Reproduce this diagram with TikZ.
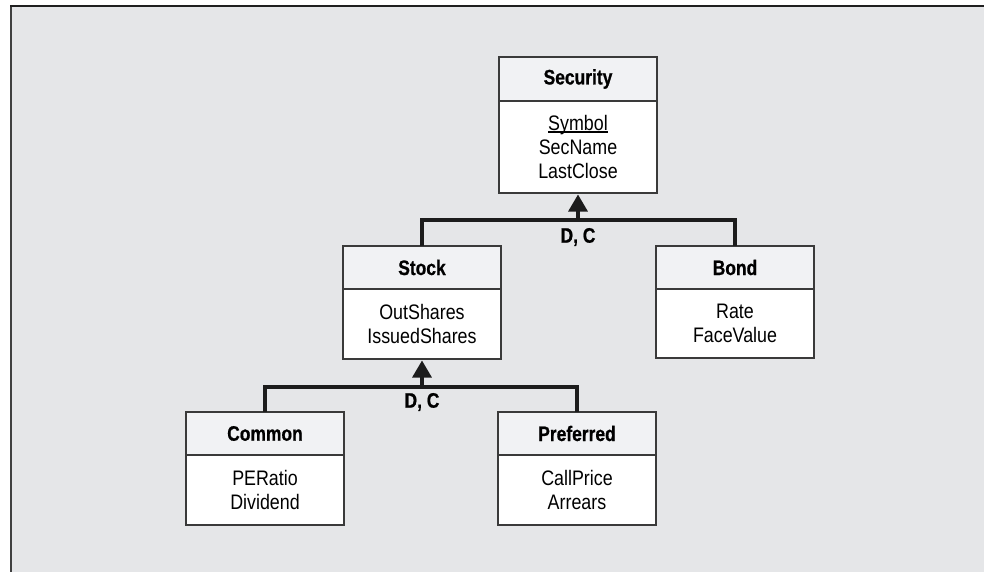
\documentclass[tikz,border=0pt]{standalone}
\usepackage{fontspec}
\setmainfont[FakeStretch=0.85,BoldFeatures={FakeStretch=0.83,FakeBold=0.8}]{Liberation Sans}
\usetikzlibrary{arrows.meta}

\definecolor{panel}{HTML}{E5E6E8}
\definecolor{headfill}{HTML}{F1F2F4}
\definecolor{boxline}{HTML}{3A3A3A}
\definecolor{barline}{HTML}{1C1C1C}

% underlined key attribute, rule sits just under the baseline
\newcommand\keyattr[1]{\setbox0\hbox{#1}\rlap{\rule[-2pt]{\wd0}{1.1pt}}\box0}

\tikzset{
  txt/.style={font=\fontsize{21}{24}\selectfont},
  classhead/.style={draw=boxline, fill=headfill, line width=1.3pt,
    minimum width=158pt, minimum height=43pt, inner sep=0pt, outer sep=0pt,
    anchor=north, font=\fontsize{21}{24}\selectfont\bfseries},
  classbody/.style={txt, draw=boxline, fill=white, line width=1.3pt,
    minimum width=158pt, inner sep=0pt, outer sep=0pt, anchor=north, align=center},
  isa/.style={draw=barline, line width=3.2pt},
  isatip/.style={isa, -{Triangle[length=17pt,width=19pt]}, shorten >=1.5pt},
  tag/.style={font=\fontsize{21}{24}\selectfont\bfseries, inner sep=0pt}
}

\begin{document}
\begin{tikzpicture}[x=1pt,y=-1pt]
  \useasboundingbox (0,0) rectangle (984,572);
  \clip (0,0) rectangle (984,572);

  % panel with its top and left border
  \fill[panel] (11,6) rectangle (995,580);
  \draw[line width=2pt, color=black!75] (11,585) -- (11,6);
  \draw[line width=1.6pt, color=black!88] (10,6) -- (995,6);

  % Security
  \node[classhead, minimum height=44pt] (sech) at (578,57) {Security};
  \node[classbody, minimum height=92pt] (secb) at (sech.south)
    {\keyattr{Symbol}\\SecName\\LastClose};

  % Stock
  \node[classhead] (stkh) at (422,246) {Stock};
  \node[classbody, minimum height=70pt] (stkb) at (stkh.south)
    {OutShares\\IssuedShares};

  % Bond
  \node[classhead] (bndh) at (735,246) {Bond};
  \node[classbody, minimum height=69pt] (bndb) at (bndh.south)
    {Rate\\FaceValue};

  % Common
  \node[classhead] (comh) at (265,412) {Common};
  \node[classbody, minimum height=70pt] (comb) at (comh.south)
    {PERatio\\Dividend};

  % Preferred
  \node[classhead] (prfh) at (577,412) {Preferred};
  \node[classbody, minimum height=70pt] (prfb) at (prfh.south)
    {CallPrice\\Arrears};

  % Security <- Stock, Bond
  \coordinate (j1) at (secb.south |- 0,220);
  \draw[isa] (stkh.north) |- (j1) -| (bndh.north);
  \draw[isatip] (j1) -- (secb.south);
  \node[tag] (t1) at (578,237) {D, C};

  % Stock <- Common, Preferred
  \coordinate (j2) at (stkb.south |- 0,387);
  \draw[isa] (comh.north) |- (j2) -| (prfh.north);
  \draw[isatip] (j2) -- (stkb.south);
  \node[tag] (t2) at (422,402) {D, C};
\end{tikzpicture}
\end{document}
